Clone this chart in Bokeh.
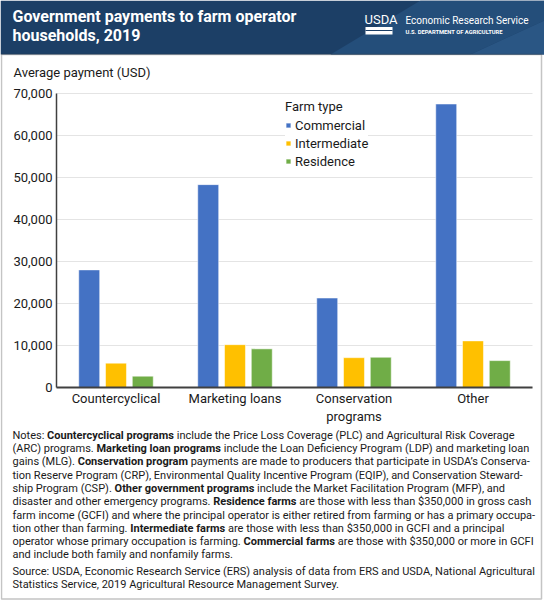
import glob
import os
from bokeh.plotting import figure
from bokeh.models import (Label, BoxAnnotation, PolyAnnotation, Legend, LegendItem, FixedTicker,
                          NumeralTickFormatter, Range1d, ColumnDataSource)
from bokeh.transform import dodge
from bokeh.embed import file_html
from bokeh.resources import INLINE

# ---------------- data ----------------
categories = ["Countercyclical", "Marketing loans", "Conservation\nprograms", "Other"]
farm_types = ["Commercial", "Intermediate", "Residence"]
commercial = [28000, 48300, 21300, 67500]
intermediate = [5800, 10200, 7100, 11100]
residence = [2700, 9200, 7200, 6400]
y_ticks = [0, 10000, 20000, 30000, 40000, 50000, 60000, 70000]

title_lines = ["Government payments to farm operator", "households, 2019"]
y_label = "Average payment (USD)"
legend_title = "Farm type"

notes_lines = [
    [("Notes:", False), ("Countercyclical programs", True),
     ("include the Price Loss Coverage (PLC) and Agricultural Risk Coverage", False)],
    [("(ARC) programs.", False), ("Marketing loan programs", True),
     ("include the Loan Deficiency Program (LDP) and marketing loan", False)],
    [("gains (MLG).", False), ("Conservation program", True),
     ("payments are made to producers that participate in USDA\u2019s Conserva-", False)],
    [("tion Reserve Program (CRP), Environmental Quality Incentive Program (EQIP), and Conservation Steward-", False)],
    [("ship Program (CSP).", False), ("Other government programs", True),
     ("include the Market Facilitation Program (MFP), and", False)],
    [("disaster and other emergency programs.", False), ("Residence farms", True),
     ("are those with less than $350,000 in gross cash", False)],
    [("farm income (GCFI) and where the principal operator is either retired from farming or has a primary occupa-", False)],
    [("tion other than farming.", False), ("Intermediate farms", True),
     ("are those with less than $350,000 in GCFI and a principal", False)],
    [("operator whose primary occupation is farming.", False), ("Commercial farms", True),
     ("are those with $350,000 or more in GCFI", False)],
    [("and include both family and nonfamily farms.", False)],
]
source_lines = [
    "Source: USDA, Economic Research Service (ERS) analysis of data from ERS and USDA, National Agricultural",
    "Statistics Service, 2019 Agricultural Resource Management Survey.",
]

# ---------------- layout (pixel coords, y down) ----------------
W, H = 544, 600
PL, PR, PT, PB = 56, 532, 93, 387          # plot area
YMAX = 70000
CAT_W = (PR - PL) / len(categories)        # pixels per category
colors = ["#4472C4", "#FFC000", "#70AD47"]
offsets = [-0.225, 0.0, 0.225]
bar_w = 0.176
FONT = "Roboto"
TXT = "#1a1a1a"
NOTE_SIZE = 11
# fallback segment positions
seg_x_ref = [
    [12, 44.3, 175], [12, 95.5, 221], [12, 81.5, 196], [12], [12, 109, 251],
    [12, 205, 284.5], [12], [12, 123, 211.5], [12, 225, 316], [12],
]


def _find(names):
    roots = ["/usr/share/fonts", "/usr/local/share/fonts", os.path.expanduser("~/.fonts"),
             os.path.expanduser("~/.local/share/fonts")]
    for n in names:
        for r in roots:
            hits = sorted(glob.glob(os.path.join(r, "**", n), recursive=True))
            if hits:
                return hits[0]
    return None


def _measurer():
    try:
        from PIL import ImageFont
        reg = _find(["Roboto-Regular.ttf"])
        bold = _find(["Roboto-Bold.ttf"])
        fonts = {}
        if reg and bold:
            fonts[False] = ImageFont.truetype(reg, NOTE_SIZE * 20)
            fonts[True] = ImageFont.truetype(bold, NOTE_SIZE * 20)
        else:
            var = _find(["Roboto[wdth,wght].ttf", "Roboto*Variable*.ttf", "Roboto[wght].ttf"])
            if not var:
                return None
            fr = ImageFont.truetype(var, NOTE_SIZE * 20)
            fb = ImageFont.truetype(var, NOTE_SIZE * 20)
            try:
                fr.set_variation_by_axes([400] if len(fr.get_variation_axes()) == 1 else [100, 400])
                fb.set_variation_by_axes([700] if len(fb.get_variation_axes()) == 1 else [100, 700])
            except Exception:
                fb.set_variation_by_name("Bold")
            fonts = {False: fr, True: fb}
        return lambda s, b: fonts[b].getlength(s) / 20.0
    except Exception:
        return None


measure = _measurer()
if measure is not None:
    seg_x = []
    for line in notes_lines:
        xs, x = [], 12
        for s, b in line:
            xs.append(x)
            x += measure(s, b) + measure(" ", False)
        seg_x.append(xs)
else:
    seg_x = seg_x_ref

# ranges so that the frame (whole canvas) maps to pixels
c0 = PL + CAT_W / 2
x_start = (0 - c0) / CAT_W
x_end = (W - c0) / CAT_W
vpp = YMAX / (PB - PT)
y_start = -(H - PB) * vpp
y_end = YMAX + PT * vpp

p = figure(width=W, height=H, x_range=Range1d(x_start, x_end), y_range=Range1d(y_start, y_end),
           output_backend="svg", toolbar_location=None, min_border=0)
p.outline_line_color = None
p.background_fill_color = "white"
p.border_fill_color = "white"
p.xgrid.visible = False
p.ygrid.visible = False

S = dict(left_units="screen", right_units="screen", top_units="screen", bottom_units="screen")
# header band
p.add_layout(BoxAnnotation(left=0, right=W, top=H, bottom=H - 54, fill_color="#1c3f66",
                           fill_alpha=1, line_color=None, **S))
p.add_layout(PolyAnnotation(xs=[330, 470, 544, 544, 420], ys=[H - 54, H - 54, H - 20, H, H],
                            xs_units="screen", ys_units="screen",
                            fill_color="#244e7a", fill_alpha=1, line_color=None))
p.add_layout(PolyAnnotation(xs=[470, 544, 544], ys=[H - 54, H - 54, H - 20],
                            xs_units="screen", ys_units="screen",
                            fill_color="#2a5684", fill_alpha=1, line_color=None))
# frame box
p.add_layout(BoxAnnotation(left=1, right=W - 3, top=H - 54, bottom=1.5,
                           fill_alpha=0, line_color="#3a3a3a", line_width=1.5, **S))
# USDA mark
p.add_layout(BoxAnnotation(left=365, right=392, top=H - 26.5, bottom=H - 34,
                           fill_color="white", fill_alpha=1, line_color=None, **S))
p.add_layout(BoxAnnotation(left=365, right=392, top=H - 29.5, bottom=H - 30.5,
                           fill_color="#1c3f66", fill_alpha=1, line_color=None, **S))


def txt(s, X, Y, size, bold=False, color=TXT, align="left", font=FONT):
    p.add_layout(Label(x=X, y=H - Y, x_units="screen", y_units="screen", text=s,
                       text_font=font, text_font_size=f"{size}px",
                       text_font_style="bold" if bold else "normal",
                       text_color=color, text_align=align, text_baseline="middle"))


txt(title_lines[0], 12, 16, 16, True, "white")
txt(title_lines[1], 12, 35, 16, True, "white")
txt("USDA", 364, 18.5, 13, False, "white")
txt("Economic Research Service", 405, 20, 10, False, "white")
txt("U.S. DEPARTMENT OF AGRICULTURE", 405, 31.5, 5.8, True, "white")
txt(y_label, 13, 72, 13, False, TXT)

# gridlines at tick values across the plot area
p.segment(x0=-0.5, x1=len(categories) - 0.5, y0=y_ticks, y1=y_ticks,
          line_color="#e4e4e4", line_width=1)

# bars
src = ColumnDataSource(dict(idx=list(range(len(categories))), Commercial=commercial,
                            Intermediate=intermediate, Residence=residence))
renderers = []
for name, off, col in zip(farm_types, offsets, colors):
    r = p.vbar(x=dodge("idx", off), top=name, width=bar_w, source=src,
               fill_color=col, line_color="white", line_alpha=0.5, line_width=1)
    renderers.append(r)

legend = Legend(items=[LegendItem(label=n, renderers=[r]) for n, r in zip(farm_types, renderers)],
                location=(285, H - 170), title=legend_title,
                title_text_font=FONT, title_text_font_size="13px", title_text_font_style="normal",
                title_text_color=TXT, title_standoff=2,
                label_text_font=FONT, label_text_font_size="13px", label_text_color=TXT,
                glyph_width=6, glyph_height=6, label_standoff=4, label_height=18,
                spacing=0, padding=0, margin=0, border_line_color=None,
                background_fill_color="white", background_fill_alpha=1)
p.add_layout(legend)

# axes fixed at the plot-area edges
p.xaxis.fixed_location = 0
p.yaxis.fixed_location = -0.5
p.xaxis.bounds = (-0.5, len(categories) - 0.5)
p.yaxis.bounds = (0, YMAX)
p.xaxis.ticker = FixedTicker(ticks=list(range(len(categories))))
p.xaxis.major_label_overrides = {i: c for i, c in enumerate(categories)}
p.yaxis.ticker = FixedTicker(ticks=y_ticks)
p.yaxis.formatter = NumeralTickFormatter(format="0,0")
for ax in (p.xaxis[0], p.yaxis[0]):
    ax.major_tick_line_color = None
    ax.minor_tick_line_color = None
    ax.major_tick_out = 0
    ax.major_tick_in = 0
    ax.major_label_text_font = FONT
    ax.major_label_text_font_size = "13px"
    ax.major_label_text_color = TXT
    ax.axis_line_color = "#404040"
p.xaxis.axis_line_width = 2
p.yaxis.axis_line_width = 1.5
p.yaxis.major_label_standoff = 4
p.xaxis.major_label_standoff = 3

# notes
y0, dy = 434.7, 13.3
for i, (line, xs) in enumerate(zip(notes_lines, seg_x)):
    for (s, b), x in zip(line, xs):
        txt(s, x, y0 + i * dy, NOTE_SIZE, b, TXT)
for i, s in enumerate(source_lines):
    txt(s, 12, 571 + i * 13.3, NOTE_SIZE, False, TXT)

open("out.html", "w").write(file_html(p, INLINE))
